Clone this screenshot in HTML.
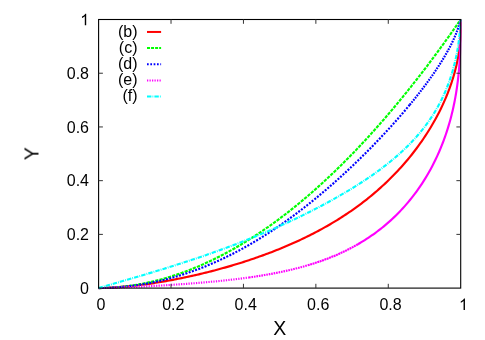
<!DOCTYPE html>
<html><head><meta charset="utf-8"><title>plot</title>
<style>
html,body{margin:0;padding:0;background:#fff;}
svg{display:block;}
text{font-family:"Liberation Sans",sans-serif;fill:#000;}
.t{opacity:0.999;}
</style></head><body>
<svg width="485" height="340" viewBox="0 0 485 340">
<rect width="485" height="340" fill="#fff"/>
<defs><clipPath id="cp"><rect x="97" y="19" width="364.6" height="270.5"/></clipPath></defs>
<g clip-path="url(#cp)"><path d="M98.60,288.10 L100.33,288.06 L102.06,288.01 L103.79,287.95 L105.51,287.88 L107.24,287.81 L108.97,287.73 L110.70,287.63 L112.43,287.54 L114.16,287.43 L115.89,287.32 L117.61,287.20 L119.34,287.07 L121.07,286.93 L122.80,286.79 L124.53,286.64 L126.26,286.48 L127.99,286.32 L129.72,286.15 L131.44,285.97 L133.17,285.78 L134.90,285.59 L136.63,285.40 L138.36,285.19 L140.09,284.98 L141.82,284.76 L143.54,284.54 L145.27,284.31 L147.00,284.07 L148.73,283.83 L150.46,283.58 L152.19,283.33 L153.92,283.07 L155.64,282.80 L157.37,282.53 L159.10,282.25 L160.83,281.97 L162.56,281.68 L164.29,281.39 L166.02,281.09 L167.74,280.78 L169.47,280.47 L171.20,280.15 L172.93,279.83 L174.66,279.50 L176.39,279.16 L178.12,278.82 L179.85,278.48 L181.57,278.13 L183.30,277.77 L185.03,277.41 L186.76,277.04 L188.49,276.67 L190.22,276.29 L191.95,275.91 L193.67,275.52 L195.40,275.13 L197.13,274.73 L198.86,274.33 L200.59,273.92 L202.32,273.50 L204.05,273.08 L205.77,272.65 L207.50,272.22 L209.23,271.79 L210.96,271.34 L212.69,270.90 L214.42,270.44 L216.15,269.98 L217.87,269.52 L219.60,269.05 L221.33,268.58 L223.06,268.09 L224.79,267.61 L226.52,267.12 L228.25,266.62 L229.97,266.11 L231.70,265.60 L233.43,265.09 L235.16,264.57 L236.89,264.04 L238.62,263.51 L240.35,262.97 L242.08,262.42 L243.80,261.87 L245.53,261.31 L247.26,260.75 L248.99,260.17 L250.72,259.60 L252.45,259.01 L254.18,258.42 L255.90,257.83 L257.63,257.22 L259.36,256.61 L261.09,255.99 L262.82,255.37 L264.55,254.74 L266.28,254.10 L268.00,253.45 L269.73,252.80 L271.46,252.14 L273.19,251.47 L274.92,250.79 L276.65,250.10 L278.38,249.41 L280.10,248.71 L281.83,248.00 L283.56,247.28 L285.29,246.56 L287.02,245.82 L288.75,245.08 L290.48,244.33 L292.21,243.57 L293.93,242.80 L295.66,242.02 L297.39,241.23 L299.12,240.43 L300.85,239.62 L302.58,238.80 L304.31,237.98 L306.03,237.14 L307.76,236.29 L309.49,235.43 L311.22,234.56 L312.95,233.67 L314.68,232.78 L316.41,231.88 L318.13,230.96 L319.86,230.03 L321.59,229.09 L323.32,228.14 L325.05,227.18 L326.78,226.20 L328.51,225.21 L330.23,224.20 L331.96,223.18 L333.69,222.15 L335.42,221.11 L337.15,220.05 L338.88,218.97 L340.61,217.88 L342.34,216.78 L344.06,215.66 L345.79,214.52 L347.52,213.37 L349.25,212.20 L350.98,211.02 L352.71,209.81 L354.44,208.59 L356.16,207.36 L357.89,206.10 L359.62,204.82 L361.35,203.53 L363.08,202.22 L364.81,200.88 L366.54,199.53 L368.26,198.15 L369.99,196.75 L371.72,195.33 L373.45,193.89 L375.18,192.43 L376.91,190.94 L378.64,189.42 L380.36,187.89 L382.09,186.32 L383.82,184.73 L385.55,183.11 L387.28,181.47 L389.01,179.80 L390.74,178.09 L392.47,176.36 L394.19,174.59 L395.92,172.79 L397.65,170.96 L399.38,169.10 L401.11,167.20 L402.84,165.26 L404.57,163.28 L406.29,161.27 L408.02,159.21 L409.75,157.11 L411.48,154.96 L413.21,152.77 L414.94,150.53 L416.67,148.24 L418.39,145.89 L420.12,143.49 L421.85,141.03 L423.58,138.50 L425.31,135.91 L427.04,133.25 L428.77,130.52 L430.49,127.70 L432.22,124.79 L433.95,121.79 L435.68,118.69 L437.41,115.48 L439.14,112.14 L440.87,108.67 L442.55,105.13 L442.60,105.04 L443.71,102.61 L444.79,100.17 L445.81,97.81 L446.76,95.52 L447.65,93.32 L448.48,91.18 L449.26,89.12 L449.99,87.12 L450.68,85.19 L451.32,83.33 L451.91,81.53 L452.48,79.78 L453.00,78.10 L453.49,76.47 L453.95,74.89 L454.38,73.37 L454.79,71.89 L455.16,70.46 L455.52,69.08 L455.85,67.74 L456.16,66.45 L456.45,65.20 L456.72,63.99 L456.97,62.81 L457.21,61.67 L457.43,60.57 L457.64,59.50 L457.84,58.47 L458.02,57.47 L458.19,56.50 L458.35,55.55 L458.50,54.64 L458.64,53.75 L458.77,52.89 L458.90,52.06 L459.01,51.25 L459.12,50.47 L459.22,49.71 L459.31,48.97 L459.40,48.25 L459.49,47.55 L459.56,46.87 L459.64,46.22 L459.70,45.58 L459.77,44.96 L459.83,44.35 L459.88,43.77 L459.93,43.20 L459.98,42.64 L460.03,42.10 L460.07,41.58 L460.11,41.07 L460.15,40.57 L460.18,40.09 L460.22,39.62 L460.25,39.16 L460.28,38.72 L460.30,38.28 L460.33,37.86 L460.35,37.45 L460.38,37.05 L460.40,36.66 L460.42,36.28 L460.43,35.91 L460.45,35.55 L460.47,35.20 L460.48,34.86 L460.50,34.52 L460.51,34.20 L460.52,33.88 L460.53,33.57 L460.54,33.27 L460.55,32.98 L460.56,32.69 L460.57,32.41 L460.58,32.14 L460.59,31.87 L460.59,31.61 L460.60,31.36 L460.61,31.11 L460.61,30.87 L460.62,30.63 L460.62,30.40 L460.63,30.18 L460.63,29.96 L460.64,29.74 L460.64,29.53 L460.65,29.33 L460.65,29.13 L460.65,28.93 L460.66,28.74 L460.66,28.55 L460.66,28.37 L460.66,28.19 L460.67,28.02 L460.67,27.85 L460.67,27.68 L460.67,27.52 L460.67,27.36 L460.68,27.21 L460.68,27.05 L460.68,26.91 L460.68,26.76 L460.68,26.62 L460.68,26.48 L460.68,26.34 L460.68,26.21 L460.69,26.08 L460.69,25.95 L460.69,25.83 L460.69,25.71 L460.69,25.59 L460.69,25.47 L460.69,25.35 L460.69,25.24 L460.69,25.13 L460.69,25.03 L460.69,24.92 L460.69,24.82 L460.69,24.72 L460.69,24.62 L460.69,24.52 L460.69,24.43 L460.69,24.34 L460.70,24.25 L460.70,24.16 L460.70,24.07 L460.70,23.98 L460.70,23.90 L460.70,23.82 L460.70,23.74 L460.70,23.66 L460.70,23.58 L460.70,23.51 L460.70,23.43 L460.70,23.36 L460.70,23.29 L460.70,23.22 L460.70,23.15 L460.70,23.09 L460.70,23.02 L460.70,22.96 L460.70,22.89 L460.70,22.83 L460.70,22.77 L460.70,22.71 L460.70,22.66 L460.70,22.60 L460.70,22.54 L460.70,22.49 L460.70,22.43 L460.70,22.38 L460.70,22.33 L460.70,22.28 L460.70,22.23 L460.70,22.18 L460.70,22.13 L460.70,22.09 L460.70,22.04 L460.70,22.00 L460.70,21.95 L460.70,21.91 L460.70,21.86 L460.70,21.82 L460.70,21.78 L460.70,21.74 L460.70,21.70 L460.70,21.66 L460.70,21.63 L460.70,21.59 L460.70,21.55 L460.70,21.52 L460.70,21.48 L460.70,21.45 L460.70,21.41 L460.70,21.38 L460.70,21.35 L460.70,21.31 L460.70,21.28 L460.70,21.25 L460.70,21.22 L460.70,21.19 L460.70,21.16 L460.70,21.13 L460.70,21.10 L460.70,21.08 L460.70,21.05 L460.70,21.02 L460.70,21.00 L460.70,20.97 L460.70,20.95 L460.70,20.92 L460.70,20.90 L460.70,20.87 L460.70,20.85 L460.70,20.83 L460.70,20.80 L460.70,20.78 L460.70,20.76 L460.70,19.50" fill="none" stroke="#ff0000" stroke-width="2.15"/></g>
<path d="M147,31.95 L161.1,31.95" fill="none" stroke="#ff0000" stroke-width="2.0"/>
<g clip-path="url(#cp)"><path d="M98.60,288.10 L100.33,288.09 L102.06,288.07 L103.79,288.03 L105.51,287.98 L107.24,287.92 L108.97,287.84 L110.70,287.74 L112.43,287.64 L114.16,287.52 L115.89,287.39 L117.61,287.24 L119.34,287.08 L121.07,286.91 L122.80,286.73 L124.53,286.53 L126.26,286.32 L127.99,286.09 L129.72,285.86 L131.44,285.61 L133.17,285.35 L134.90,285.07 L136.63,284.78 L138.36,284.48 L140.09,284.17 L141.82,283.85 L143.54,283.51 L145.27,283.16 L147.00,282.79 L148.73,282.42 L150.46,282.03 L152.19,281.63 L153.92,281.21 L155.64,280.79 L157.37,280.35 L159.10,279.90 L160.83,279.44 L162.56,278.96 L164.29,278.47 L166.02,277.97 L167.74,277.46 L169.47,276.94 L171.20,276.40 L172.93,275.85 L174.66,275.29 L176.39,274.71 L178.12,274.13 L179.85,273.53 L181.57,272.92 L183.30,272.30 L185.03,271.66 L186.76,271.01 L188.49,270.35 L190.22,269.68 L191.95,269.00 L193.67,268.30 L195.40,267.59 L197.13,266.87 L198.86,266.14 L200.59,265.40 L202.32,264.64 L204.05,263.87 L205.77,263.09 L207.50,262.30 L209.23,261.50 L210.96,260.68 L212.69,259.85 L214.42,259.01 L216.15,258.16 L217.87,257.29 L219.60,256.42 L221.33,255.53 L223.06,254.63 L224.79,253.71 L226.52,252.79 L228.25,251.85 L229.97,250.90 L231.70,249.94 L233.43,248.97 L235.16,247.99 L236.89,246.99 L238.62,245.98 L240.35,244.96 L242.08,243.93 L243.80,242.89 L245.53,241.83 L247.26,240.77 L248.99,239.69 L250.72,238.60 L252.45,237.49 L254.18,236.38 L255.90,235.25 L257.63,234.11 L259.36,232.96 L261.09,231.80 L262.82,230.63 L264.55,229.44 L266.28,228.24 L268.00,227.03 L269.73,225.81 L271.46,224.58 L273.19,223.34 L274.92,222.08 L276.65,220.81 L278.38,219.53 L280.10,218.24 L281.83,216.94 L283.56,215.62 L285.29,214.30 L287.02,212.96 L288.75,211.61 L290.48,210.25 L292.21,208.87 L293.93,207.49 L295.66,206.09 L297.39,204.68 L299.12,203.26 L300.85,201.83 L302.58,200.39 L304.31,198.93 L306.03,197.46 L307.76,195.98 L309.49,194.49 L311.22,192.99 L312.95,191.48 L314.68,189.95 L316.41,188.42 L318.13,186.87 L319.86,185.31 L321.59,183.74 L323.32,182.15 L325.05,180.56 L326.78,178.95 L328.51,177.33 L330.23,175.70 L331.96,174.06 L333.69,172.41 L335.42,170.74 L337.15,169.07 L338.88,167.38 L340.61,165.68 L342.34,163.97 L344.06,162.25 L345.79,160.51 L347.52,158.77 L349.25,157.01 L350.98,155.24 L352.71,153.46 L354.44,151.67 L356.16,149.87 L357.89,148.05 L359.62,146.22 L361.35,144.39 L363.08,142.54 L364.81,140.68 L366.54,138.80 L368.26,136.92 L369.99,135.02 L371.72,133.12 L373.45,131.20 L375.18,129.27 L376.91,127.33 L378.64,125.37 L380.36,123.41 L382.09,121.43 L383.82,119.45 L385.55,117.45 L387.28,115.44 L389.01,113.41 L390.74,111.38 L392.47,109.34 L394.19,107.28 L395.92,105.21 L397.65,103.13 L399.38,101.04 L401.11,98.94 L402.84,96.83 L404.57,94.70 L406.29,92.57 L408.02,90.42 L409.75,88.26 L411.48,86.09 L413.21,83.91 L414.94,81.71 L416.67,79.51 L418.39,77.29 L420.12,75.06 L421.85,72.82 L423.58,70.57 L425.31,68.31 L427.04,66.04 L428.77,63.75 L430.49,61.46 L432.22,59.15 L433.95,56.83 L435.68,54.50 L437.41,52.16 L439.14,49.81 L440.87,47.44 L442.55,45.13 L442.60,45.07 L443.71,43.53 L444.79,42.03 L445.81,40.62 L446.76,39.29 L447.65,38.05 L448.48,36.89 L449.26,35.80 L449.99,34.77 L450.68,33.81 L451.32,32.91 L451.91,32.06 L452.48,31.27 L453.00,30.52 L453.49,29.83 L453.95,29.17 L454.38,28.56 L454.79,27.99 L455.16,27.45 L455.52,26.95 L455.85,26.47 L456.16,26.03 L456.45,25.62 L456.72,25.23 L456.97,24.87 L457.21,24.52 L457.43,24.20 L457.64,23.91 L457.84,23.63 L458.02,23.36 L458.19,23.12 L458.35,22.89 L458.50,22.67 L458.64,22.47 L458.77,22.28 L458.90,22.10 L459.01,21.94 L459.12,21.78 L459.22,21.64 L459.31,21.50 L459.40,21.37 L459.49,21.25 L459.56,21.14 L459.64,21.04 L459.70,20.94 L459.77,20.85 L459.83,20.76 L459.88,20.68 L459.93,20.61 L459.98,20.54 L460.03,20.47 L460.07,20.41 L460.11,20.35 L460.15,20.30 L460.18,20.24 L460.22,20.20 L460.25,20.15 L460.28,20.11 L460.30,20.07 L460.33,20.04 L460.35,20.00 L460.38,19.97 L460.40,19.94 L460.42,19.91 L460.43,19.89 L460.45,19.86 L460.47,19.84 L460.48,19.82 L460.50,19.80 L460.51,19.78 L460.52,19.76 L460.53,19.74 L460.54,19.73 L460.55,19.71 L460.56,19.70 L460.57,19.69 L460.58,19.67 L460.59,19.66 L460.59,19.65 L460.60,19.64 L460.61,19.63 L460.61,19.63 L460.62,19.62 L460.62,19.61 L460.63,19.60 L460.63,19.60 L460.64,19.59 L460.64,19.58 L460.65,19.58 L460.65,19.57 L460.65,19.57 L460.66,19.56 L460.66,19.56 L460.66,19.56 L460.66,19.55 L460.67,19.55 L460.67,19.55 L460.67,19.54 L460.67,19.54 L460.67,19.54 L460.68,19.54 L460.68,19.53 L460.68,19.53 L460.68,19.53 L460.68,19.53 L460.68,19.53 L460.68,19.52 L460.68,19.52 L460.69,19.52 L460.69,19.52 L460.69,19.52 L460.69,19.52 L460.69,19.52 L460.69,19.52 L460.69,19.51 L460.69,19.51 L460.69,19.51 L460.69,19.51 L460.69,19.51 L460.69,19.51 L460.69,19.51 L460.69,19.51 L460.69,19.51 L460.69,19.51 L460.69,19.51 L460.70,19.51 L460.70,19.51 L460.70,19.51 L460.70,19.51 L460.70,19.51 L460.70,19.50 L460.70,19.50 L460.70,19.50 L460.70,19.50 L460.70,19.50 L460.70,19.50 L460.70,19.50 L460.70,19.50 L460.70,19.50 L460.70,19.50 L460.70,19.50 L460.70,19.50 L460.70,19.50 L460.70,19.50 L460.70,19.50 L460.70,19.50 L460.70,19.50 L460.70,19.50 L460.70,19.50 L460.70,19.50 L460.70,19.50 L460.70,19.50 L460.70,19.50 L460.70,19.50 L460.70,19.50 L460.70,19.50 L460.70,19.50 L460.70,19.50 L460.70,19.50 L460.70,19.50 L460.70,19.50 L460.70,19.50 L460.70,19.50 L460.70,19.50 L460.70,19.50 L460.70,19.50 L460.70,19.50 L460.70,19.50 L460.70,19.50 L460.70,19.50 L460.70,19.50 L460.70,19.50 L460.70,19.50 L460.70,19.50 L460.70,19.50 L460.70,19.50 L460.70,19.50 L460.70,19.50 L460.70,19.50 L460.70,19.50 L460.70,19.50 L460.70,19.50 L460.70,19.50 L460.70,19.50 L460.70,19.50 L460.70,19.50 L460.70,19.50 L460.70,19.50 L460.70,19.50 L460.70,19.50 L460.70,19.50 L460.70,19.50 L460.70,19.50 L460.70,19.50 L460.70,19.50 L460.70,19.50 L460.70,19.50 L460.70,19.50 L460.70,19.50 L460.70,19.50 L460.70,19.50" fill="none" stroke="#00ff00" stroke-width="2.15" stroke-dasharray="3.3 1.1"/></g>
<path d="M147,48.10 L161.1,48.10" fill="none" stroke="#00ff00" stroke-width="2.0" stroke-dasharray="3 1.05"/>
<g clip-path="url(#cp)"><path d="M98.60,288.10 L100.33,288.08 L102.06,288.04 L103.79,288.00 L105.51,287.95 L107.24,287.88 L108.97,287.81 L110.70,287.72 L112.43,287.63 L114.16,287.52 L115.89,287.41 L117.61,287.28 L119.34,287.15 L121.07,287.00 L122.80,286.84 L124.53,286.67 L126.26,286.49 L127.99,286.30 L129.72,286.10 L131.44,285.89 L133.17,285.67 L134.90,285.43 L136.63,285.19 L138.36,284.93 L140.09,284.67 L141.82,284.39 L143.54,284.10 L145.27,283.80 L147.00,283.49 L148.73,283.17 L150.46,282.84 L152.19,282.49 L153.92,282.14 L155.64,281.77 L157.37,281.39 L159.10,281.00 L160.83,280.60 L162.56,280.19 L164.29,279.77 L166.02,279.33 L167.74,278.89 L169.47,278.43 L171.20,277.96 L172.93,277.48 L174.66,276.99 L176.39,276.49 L178.12,275.97 L179.85,275.45 L181.57,274.91 L183.30,274.36 L185.03,273.80 L186.76,273.23 L188.49,272.65 L190.22,272.05 L191.95,271.44 L193.67,270.83 L195.40,270.20 L197.13,269.55 L198.86,268.90 L200.59,268.24 L202.32,267.56 L204.05,266.87 L205.77,266.17 L207.50,265.46 L209.23,264.74 L210.96,264.01 L212.69,263.26 L214.42,262.51 L216.15,261.74 L217.87,260.96 L219.60,260.16 L221.33,259.36 L223.06,258.55 L224.79,257.72 L226.52,256.88 L228.25,256.03 L229.97,255.17 L231.70,254.30 L233.43,253.42 L235.16,252.52 L236.89,251.61 L238.62,250.69 L240.35,249.76 L242.08,248.82 L243.80,247.87 L245.53,246.91 L247.26,245.93 L248.99,244.95 L250.72,243.95 L252.45,242.94 L254.18,241.92 L255.90,240.89 L257.63,239.84 L259.36,238.79 L261.09,237.72 L262.82,236.64 L264.55,235.56 L266.28,234.46 L268.00,233.35 L269.73,232.22 L271.46,231.09 L273.19,229.95 L274.92,228.79 L276.65,227.63 L278.38,226.45 L280.10,225.26 L281.83,224.06 L283.56,222.85 L285.29,221.63 L287.02,220.40 L288.75,219.16 L290.48,217.90 L292.21,216.64 L293.93,215.36 L295.66,214.08 L297.39,212.78 L299.12,211.47 L300.85,210.15 L302.58,208.83 L304.31,207.49 L306.03,206.13 L307.76,204.77 L309.49,203.40 L311.22,202.02 L312.95,200.63 L314.68,199.22 L316.41,197.81 L318.13,196.38 L319.86,194.95 L321.59,193.50 L323.32,192.04 L325.05,190.58 L326.78,189.10 L328.51,187.61 L330.23,186.11 L331.96,184.60 L333.69,183.08 L335.42,181.55 L337.15,180.01 L338.88,178.46 L340.61,176.89 L342.34,175.32 L344.06,173.74 L345.79,172.14 L347.52,170.54 L349.25,168.92 L350.98,167.29 L352.71,165.66 L354.44,164.01 L356.16,162.35 L357.89,160.68 L359.62,159.00 L361.35,157.30 L363.08,155.60 L364.81,153.89 L366.54,152.16 L368.26,150.42 L369.99,148.67 L371.72,146.91 L373.45,145.14 L375.18,143.35 L376.91,141.56 L378.64,139.75 L380.36,137.93 L382.09,136.09 L383.82,134.25 L385.55,132.39 L387.28,130.51 L389.01,128.63 L390.74,126.73 L392.47,124.81 L394.19,122.88 L395.92,120.94 L397.65,118.98 L399.38,117.01 L401.11,115.02 L402.84,113.01 L404.57,110.98 L406.29,108.94 L408.02,106.88 L409.75,104.80" fill="none" stroke="#0000ff" stroke-width="2.15" stroke-dasharray="2.0 1.4"/><path d="M409.75,104.80 L411.48,102.70 L413.21,100.58 L414.94,98.44 L416.67,96.27 L418.39,94.08 L420.12,91.87 L421.85,89.63 L423.58,87.36 L425.31,85.06 L427.04,82.73 L428.77,80.36 L430.49,77.96 L432.22,75.51 L433.95,73.02 L435.68,70.49 L437.41,67.90 L439.14,65.26 L440.87,62.55 L442.55,59.84 L442.60,59.77 L443.71,57.93 L444.79,56.11 L445.81,54.37 L446.76,52.71 L447.65,51.12 L448.48,49.60 L449.26,48.14 L449.99,46.76 L450.68,45.43 L451.32,44.16 L451.91,42.95 L452.48,41.79 L453.00,40.68 L453.49,39.62 L453.95,38.60 L454.38,37.63 L454.79,36.70 L455.16,35.82 L455.52,34.97 L455.85,34.16 L456.16,33.38 L456.45,32.64 L456.72,31.93 L456.97,31.25 L457.21,30.60 L457.43,29.98 L457.64,29.38 L457.84,28.81 L458.02,28.27 L458.19,27.75 L458.35,27.25 L458.50,26.78 L458.64,26.33 L458.77,25.89 L458.90,25.48 L459.01,25.08 L459.12,24.70 L459.22,24.34 L459.31,23.99 L459.40,23.66 L459.49,23.35 L459.56,23.05 L459.64,22.76 L459.70,22.48 L459.77,22.22 L459.83,21.97 L459.88,21.73 L459.93,21.51 L459.98,21.29 L460.03,21.08 L460.07,20.89 L460.11,20.70 L460.15,20.52 L460.18,20.35 L460.22,20.19 L460.25,20.03 L460.28,19.89 L460.30,19.75 L460.33,19.62 L460.35,19.50 L460.38,19.50 L460.40,19.50 L460.42,19.50 L460.43,19.50 L460.45,19.50 L460.47,19.50 L460.48,19.50 L460.50,19.50 L460.51,19.50 L460.52,19.50 L460.53,19.50 L460.54,19.50 L460.55,19.50 L460.56,19.50 L460.57,19.50 L460.58,19.50 L460.59,19.50 L460.59,19.50 L460.60,19.50 L460.61,19.50 L460.61,19.50 L460.62,19.50 L460.62,19.50 L460.63,19.50 L460.63,19.50 L460.64,19.50 L460.64,19.50 L460.65,19.50 L460.65,19.50 L460.65,19.50 L460.66,19.50 L460.66,19.50 L460.66,19.50 L460.66,19.50 L460.67,19.50 L460.67,19.50 L460.67,19.50 L460.67,19.50 L460.67,19.50 L460.68,19.50 L460.68,19.50 L460.68,19.50 L460.68,19.50 L460.68,19.50 L460.68,19.50 L460.68,19.50 L460.68,19.50 L460.69,19.50 L460.69,19.50 L460.69,19.50 L460.69,19.50 L460.69,19.50 L460.69,19.50 L460.69,19.50 L460.69,19.50 L460.69,19.50 L460.69,19.50 L460.69,19.50 L460.69,19.50 L460.69,19.50 L460.69,19.50 L460.69,19.50 L460.69,19.50 L460.69,19.50 L460.70,19.50 L460.70,19.50 L460.70,19.50 L460.70,19.50 L460.70,19.50 L460.70,19.50 L460.70,19.50 L460.70,19.50 L460.70,19.50 L460.70,19.50 L460.70,19.50 L460.70,19.50 L460.70,19.50 L460.70,19.50 L460.70,19.50 L460.70,19.50 L460.70,19.50 L460.70,19.50 L460.70,19.50 L460.70,19.50 L460.70,19.50 L460.70,19.50 L460.70,19.50 L460.70,19.50 L460.70,19.50 L460.70,19.50 L460.70,19.50 L460.70,19.50 L460.70,19.50 L460.70,19.50 L460.70,19.50 L460.70,19.50 L460.70,19.50 L460.70,19.50 L460.70,19.50 L460.70,19.50 L460.70,19.50 L460.70,19.50 L460.70,19.50 L460.70,19.50 L460.70,19.50 L460.70,19.50 L460.70,19.50 L460.70,19.50 L460.70,19.50 L460.70,19.50 L460.70,19.50 L460.70,19.50 L460.70,19.50 L460.70,19.50 L460.70,19.50 L460.70,19.50 L460.70,19.50 L460.70,19.50 L460.70,19.50 L460.70,19.50 L460.70,19.50 L460.70,19.50 L460.70,19.50 L460.70,19.50 L460.70,19.50 L460.70,19.50 L460.70,19.50 L460.70,19.50 L460.70,19.50 L460.70,19.50 L460.70,19.50 L460.70,19.50 L460.70,19.50 L460.70,19.50 L460.70,19.50 L460.70,19.50 L460.70,19.50 L460.70,19.50 L460.70,19.50 L460.70,19.50" fill="none" stroke="#0000ff" stroke-width="2.15" stroke-dasharray="1.7 1.1"/></g>
<path d="M147,64.25 L161.1,64.25" fill="none" stroke="#0000ff" stroke-width="2.0" stroke-dasharray="1.7 1.63"/>
<g clip-path="url(#cp)"><path d="M98.60,288.10 L100.33,288.06 L102.06,288.03 L103.79,287.99 L105.51,287.94 L107.24,287.90 L108.97,287.85 L110.70,287.80 L112.43,287.75 L114.16,287.69 L115.89,287.64 L117.61,287.58 L119.34,287.52 L121.07,287.46 L122.80,287.39 L124.53,287.33 L126.26,287.26 L127.99,287.19 L129.72,287.12 L131.44,287.05 L133.17,286.97 L134.90,286.89 L136.63,286.82 L138.36,286.74 L140.09,286.65 L141.82,286.57 L143.54,286.48 L145.27,286.40 L147.00,286.31 L148.73,286.22 L150.46,286.13 L152.19,286.03 L153.92,285.94 L155.64,285.84 L157.37,285.74 L159.10,285.64 L160.83,285.54 L162.56,285.44 L164.29,285.33 L166.02,285.23 L167.74,285.12 L169.47,285.01 L171.20,284.90 L172.93,284.79 L174.66,284.67 L176.39,284.55 L178.12,284.44 L179.85,284.32 L181.57,284.19 L183.30,284.07 L185.03,283.94 L186.76,283.82 L188.49,283.69 L190.22,283.56 L191.95,283.42 L193.67,283.29 L195.40,283.15 L197.13,283.01 L198.86,282.87 L200.59,282.72 L202.32,282.57 L204.05,282.43 L205.77,282.27 L207.50,282.12 L209.23,281.96 L210.96,281.80 L212.69,281.64 L214.42,281.48 L216.15,281.31 L217.87,281.14 L219.60,280.96 L221.33,280.79 L223.06,280.61 L224.79,280.42 L226.52,280.24 L228.25,280.04 L229.97,279.85 L231.70,279.65 L233.43,279.45 L235.16,279.25 L236.89,279.04 L238.62,278.82 L240.35,278.61 L242.08,278.38 L243.80,278.16 L245.53,277.93 L247.26,277.69 L248.99,277.45" fill="none" stroke="#ff00ff" stroke-width="2.15" stroke-dasharray="1.25 1.25"/><path d="M248.99,277.45 L250.72,277.21 L252.45,276.96 L254.18,276.70 L255.90,276.44 L257.63,276.17 L259.36,275.90 L261.09,275.62 L262.82,275.34 L264.55,275.05 L266.28,274.75 L268.00,274.45 L269.73,274.14 L271.46,273.82 L273.19,273.50 L274.92,273.17 L276.65,272.83 L278.38,272.49 L280.10,272.14 L281.83,271.78 L283.56,271.41 L285.29,271.03 L287.02,270.65 L288.75,270.25 L290.48,269.85 L292.21,269.44 L293.93,269.01 L295.66,268.58 L297.39,268.14 L299.12,267.69 L300.85,267.23 L302.58,266.76 L304.31,266.28 L306.03,265.78 L307.76,265.28" fill="none" stroke="#ff00ff" stroke-width="2.15" stroke-dasharray="1.6 0.9"/><path d="M307.76,265.28 L309.49,264.76 L311.22,264.23 L312.95,263.69 L314.68,263.14 L316.41,262.57 L318.13,261.99 L319.86,261.40 L321.59,260.79 L323.32,260.17 L325.05,259.54 L326.78,258.89 L328.51,258.22 L330.23,257.54 L331.96,256.85 L333.69,256.14 L335.42,255.41 L337.15,254.66 L338.88,253.90 L340.61,253.12 L342.34,252.32 L344.06,251.50 L345.79,250.67 L347.52,249.81 L349.25,248.94 L350.98,248.04 L352.71,247.12 L354.44,246.18 L356.16,245.22 L357.89,244.24" fill="none" stroke="#ff00ff" stroke-width="2.15" stroke-dasharray="2.0 0.5"/><path d="M357.89,244.24 L359.62,243.23 L361.35,242.20 L363.08,241.15 L364.81,240.07 L366.54,238.96 L368.26,237.83 L369.99,236.67 L371.72,235.48 L373.45,234.27 L375.18,233.02 L376.91,231.74 L378.64,230.44 L380.36,229.10 L382.09,227.73 L383.82,226.32 L385.55,224.88 L387.28,223.40 L389.01,221.89 L390.74,220.34 L392.47,218.74 L394.19,217.11 L395.92,215.43 L397.65,213.71 L399.38,211.95 L401.11,210.13 L402.84,208.27 L404.57,206.35 L406.29,204.39 L408.02,202.36 L409.75,200.28 L411.48,198.13 L413.21,195.93 L414.94,193.65 L416.67,191.30 L418.39,188.88 L420.12,186.38 L421.85,183.80 L423.58,181.13 L425.31,178.36 L427.04,175.49 L428.77,172.51 L430.49,169.41 L432.22,166.18 L433.95,162.82 L435.68,159.30 L437.41,155.61 L439.14,151.74 L440.87,147.65 L442.55,143.43 L442.60,143.32 L443.71,140.38 L444.79,137.40 L445.81,134.49 L446.76,131.65 L447.65,128.87 L448.48,126.16 L449.26,123.52 L449.99,120.94 L450.68,118.42 L451.32,115.97 L451.91,113.57 L452.48,111.23 L453.00,108.95 L453.49,106.73 L453.95,104.56 L454.38,102.44 L454.79,100.38 L455.16,98.36 L455.52,96.40 L455.85,94.49 L456.16,92.62 L456.45,90.79 L456.72,89.02 L456.97,87.28 L457.21,85.59 L457.43,83.95 L457.64,82.34 L457.84,80.77 L458.02,79.24 L458.19,77.75 L458.35,76.29 L458.50,74.87 L458.64,73.49 L458.77,72.14 L458.90,70.82 L459.01,69.54 L459.12,68.29 L459.22,67.06 L459.31,65.87 L459.40,64.71 L459.49,63.57 L459.56,62.47 L459.64,61.39 L459.70,60.33 L459.77,59.31 L459.83,58.30 L459.88,57.33 L459.93,56.37 L459.98,55.44 L460.03,54.53 L460.07,53.64 L460.11,52.78 L460.15,51.94 L460.18,51.11 L460.22,50.31 L460.25,49.52 L460.28,48.76 L460.30,48.01 L460.33,47.28 L460.35,46.57 L460.38,45.87 L460.40,45.19 L460.42,44.53 L460.43,43.88 L460.45,43.25 L460.47,42.63 L460.48,42.03 L460.50,41.44 L460.51,40.87 L460.52,40.31 L460.53,39.76 L460.54,39.23 L460.55,38.70 L460.56,38.19 L460.57,37.70 L460.58,37.21 L460.59,36.73 L460.59,36.27 L460.60,35.81 L460.61,35.37 L460.61,34.94 L460.62,34.51 L460.62,34.10 L460.63,33.70 L460.63,33.30 L460.64,32.92 L460.64,32.54 L460.65,32.17 L460.65,31.81 L460.65,31.46 L460.66,31.11 L460.66,30.77 L460.66,30.45 L460.66,30.12 L460.67,29.81 L460.67,29.50 L460.67,29.20 L460.67,28.90 L460.67,28.62 L460.68,28.33 L460.68,28.06 L460.68,27.79 L460.68,27.53 L460.68,27.27 L460.68,27.02 L460.68,26.77 L460.68,26.53 L460.69,26.29 L460.69,26.06 L460.69,25.83 L460.69,25.61 L460.69,25.39 L460.69,25.18 L460.69,24.97 L460.69,24.77 L460.69,24.57 L460.69,24.38 L460.69,24.19 L460.69,24.00 L460.69,23.82 L460.69,23.64 L460.69,23.46 L460.69,23.29 L460.69,23.12 L460.70,22.96 L460.70,22.80 L460.70,22.64 L460.70,22.48 L460.70,22.33 L460.70,22.18 L460.70,22.04 L460.70,21.90 L460.70,21.76 L460.70,21.62 L460.70,21.49 L460.70,21.35 L460.70,21.22 L460.70,21.10 L460.70,20.98 L460.70,20.85 L460.70,20.74 L460.70,20.62 L460.70,20.50 L460.70,20.39 L460.70,20.28 L460.70,20.18 L460.70,20.07 L460.70,19.97 L460.70,19.87 L460.70,19.77 L460.70,19.67 L460.70,19.57 L460.70,19.50 L460.70,19.50 L460.70,19.50 L460.70,19.50 L460.70,19.50 L460.70,19.50 L460.70,19.50 L460.70,19.50 L460.70,19.50 L460.70,19.50 L460.70,19.50 L460.70,19.50 L460.70,19.50 L460.70,19.50 L460.70,19.50 L460.70,19.50 L460.70,19.50 L460.70,19.50 L460.70,19.50 L460.70,19.50 L460.70,19.50 L460.70,19.50 L460.70,19.50 L460.70,19.50 L460.70,19.50 L460.70,19.50 L460.70,19.50 L460.70,19.50 L460.70,19.50 L460.70,19.50 L460.70,19.50 L460.70,19.50 L460.70,19.50 L460.70,19.50 L460.70,19.50 L460.70,19.50 L460.70,19.50 L460.70,19.50 L460.70,19.50 L460.70,19.50 L460.70,19.50 L460.70,19.50 L460.70,19.50 L460.70,19.50 L460.70,19.50 L460.70,19.50 L460.70,19.50 L460.70,19.50" fill="none" stroke="#ff00ff" stroke-width="2.15"/></g>
<path d="M147,80.40 L161.1,80.40" fill="none" stroke="#ff00ff" stroke-width="2.0" stroke-dasharray="1.25 1.25"/>
<g clip-path="url(#cp)"><path d="M98.60,288.10 L100.33,287.59 L102.06,287.08 L103.79,286.58 L105.51,286.07 L107.24,285.57 L108.97,285.06 L110.70,284.56 L112.43,284.05 L114.16,283.55 L115.89,283.04 L117.61,282.54 L119.34,282.04 L121.07,281.53 L122.80,281.03 L124.53,280.52 L126.26,280.02 L127.99,279.51 L129.72,279.01 L131.44,278.50 L133.17,277.99 L134.90,277.49 L136.63,276.98 L138.36,276.47 L140.09,275.96 L141.82,275.45 L143.54,274.93 L145.27,274.42 L147.00,273.90 L148.73,273.39 L150.46,272.87 L152.19,272.35 L153.92,271.83 L155.64,271.30 L157.37,270.78 L159.10,270.25 L160.83,269.72 L162.56,269.19 L164.29,268.66 L166.02,268.13 L167.74,267.59 L169.47,267.05 L171.20,266.51 L172.93,265.97 L174.66,265.42 L176.39,264.88 L178.12,264.33 L179.85,263.77 L181.57,263.22 L183.30,262.66 L185.03,262.10 L186.76,261.54 L188.49,260.97 L190.22,260.40 L191.95,259.83 L193.67,259.25 L195.40,258.68 L197.13,258.10 L198.86,257.51 L200.59,256.93 L202.32,256.34 L204.05,255.74 L205.77,255.15 L207.50,254.55 L209.23,253.94 L210.96,253.34 L212.69,252.73 L214.42,252.11 L216.15,251.50 L217.87,250.88 L219.60,250.25 L221.33,249.62 L223.06,248.99 L224.79,248.36 L226.52,247.72 L228.25,247.08 L229.97,246.43 L231.70,245.78 L233.43,245.13 L235.16,244.47 L236.89,243.81 L238.62,243.14 L240.35,242.47 L242.08,241.80 L243.80,241.12 L245.53,240.44 L247.26,239.75 L248.99,239.06 L250.72,238.37 L252.45,237.67 L254.18,236.96 L255.90,236.26 L257.63,235.54 L259.36,234.83 L261.09,234.11 L262.82,233.38 L264.55,232.65 L266.28,231.92 L268.00,231.18 L269.73,230.43 L271.46,229.68 L273.19,228.93 L274.92,228.17 L276.65,227.41 L278.38,226.64 L280.10,225.87 L281.83,225.09 L283.56,224.31 L285.29,223.52 L287.02,222.73 L288.75,221.93 L290.48,221.13 L292.21,220.32 L293.93,219.50 L295.66,218.68 L297.39,217.86 L299.12,217.03 L300.85,216.19 L302.58,215.35 L304.31,214.50 L306.03,213.65 L307.76,212.79 L309.49,211.92 L311.22,211.05 L312.95,210.17 L314.68,209.29 L316.41,208.40 L318.13,207.50 L319.86,206.60 L321.59,205.69 L323.32,204.77 L325.05,203.85 L326.78,202.91 L328.51,201.98 L330.23,201.03 L331.96,200.08 L333.69,199.11 L335.42,198.14 L337.15,197.17 L338.88,196.18 L340.61,195.19 L342.34,194.18 L344.06,193.17 L345.79,192.15 L347.52,191.12 L349.25,190.08 L350.98,189.03 L352.71,187.97 L354.44,186.90 L356.16,185.82 L357.89,184.72 L359.62,183.62 L361.35,182.50 L363.08,181.38 L364.81,180.24 L366.54,179.08 L368.26,177.91 L369.99,176.73 L371.72,175.54 L373.45,174.32 L375.18,173.10 L376.91,171.85 L378.64,170.59 L380.36,169.32 L382.09,168.02 L383.82,166.70 L385.55,165.37 L387.28,164.01 L389.01,162.63 L390.74,161.23 L392.47,159.81 L394.19,158.36 L395.92,156.88 L397.65,155.38 L399.38,153.85 L401.11,152.28 L402.84,150.69 L404.57,149.06 L406.29,147.39 L408.02,145.69 L409.75,143.95 L411.48,142.16 L413.21,140.33 L414.94,138.45 L416.67,136.52 L418.39,134.53 L420.12,132.49 L421.85,130.38 L423.58,128.20 L425.31,125.95 L427.04,123.62 L428.77,121.20 L430.49,118.69 L432.22,116.08 L433.95,113.35 L435.68,110.50 L437.41,107.51 L439.14,104.36 L440.87,101.03 L442.55,97.60 L442.60,97.51 L443.71,95.12 L444.79,92.69 L445.81,90.32 L446.76,88.01 L447.65,85.75 L448.48,83.54 L449.26,81.39 L449.99,79.30 L450.68,77.26 L451.32,75.27 L451.91,73.33 L452.48,71.44 L453.00,69.61 L453.49,67.83 L453.95,66.09 L454.38,64.40 L454.79,62.77 L455.16,61.17 L455.52,59.63 L455.85,58.13 L456.16,56.67 L456.45,55.26 L456.72,53.89 L456.97,52.57 L457.21,51.28 L457.43,50.03 L457.64,48.83 L457.84,47.66 L458.02,46.52 L458.19,45.43 L458.35,44.37 L458.50,43.34 L458.64,42.35 L458.77,41.39 L458.90,40.46 L459.01,39.56 L459.12,38.70 L459.22,37.86 L459.31,37.05 L459.40,36.27 L459.49,35.51 L459.56,34.79 L459.64,34.08 L459.70,33.40 L459.77,32.75 L459.83,32.12 L459.88,31.51 L459.93,30.92 L459.98,30.36 L460.03,29.81 L460.07,29.29 L460.11,28.78 L460.15,28.29 L460.18,27.83 L460.22,27.37 L460.25,26.94 L460.28,26.52 L460.30,26.12 L460.33,25.73 L460.35,25.36 L460.38,25.00 L460.40,24.66 L460.42,24.33 L460.43,24.01 L460.45,23.71 L460.47,23.41 L460.48,23.13 L460.50,22.86 L460.51,22.60 L460.52,22.35 L460.53,22.12 L460.54,21.89 L460.55,21.67 L460.56,21.46 L460.57,21.26 L460.58,21.07 L460.59,20.88 L460.59,20.71 L460.60,20.54 L460.61,20.38 L460.61,20.23 L460.62,20.08 L460.62,19.94 L460.63,19.81 L460.63,19.68 L460.64,19.56 L460.64,19.50 L460.65,19.50 L460.65,19.50 L460.65,19.50 L460.66,19.50 L460.66,19.50 L460.66,19.50 L460.66,19.50 L460.67,19.50 L460.67,19.50 L460.67,19.50 L460.67,19.50 L460.67,19.50 L460.68,19.50 L460.68,19.50 L460.68,19.50 L460.68,19.50 L460.68,19.50 L460.68,19.50 L460.68,19.50 L460.68,19.50 L460.69,19.50 L460.69,19.50 L460.69,19.50 L460.69,19.50 L460.69,19.50 L460.69,19.50 L460.69,19.50 L460.69,19.50 L460.69,19.50 L460.69,19.50 L460.69,19.50 L460.69,19.50 L460.69,19.50 L460.69,19.50 L460.69,19.50 L460.69,19.50 L460.69,19.50 L460.70,19.50 L460.70,19.50 L460.70,19.50 L460.70,19.50 L460.70,19.50 L460.70,19.50 L460.70,19.50 L460.70,19.50 L460.70,19.50 L460.70,19.50 L460.70,19.50 L460.70,19.50 L460.70,19.50 L460.70,19.50 L460.70,19.50 L460.70,19.50 L460.70,19.50 L460.70,19.50 L460.70,19.50 L460.70,19.50 L460.70,19.50 L460.70,19.50 L460.70,19.50 L460.70,19.50 L460.70,19.50 L460.70,19.50 L460.70,19.50 L460.70,19.50 L460.70,19.50 L460.70,19.50 L460.70,19.50 L460.70,19.50 L460.70,19.50 L460.70,19.50 L460.70,19.50 L460.70,19.50 L460.70,19.50 L460.70,19.50 L460.70,19.50 L460.70,19.50 L460.70,19.50 L460.70,19.50 L460.70,19.50 L460.70,19.50 L460.70,19.50 L460.70,19.50 L460.70,19.50 L460.70,19.50 L460.70,19.50 L460.70,19.50 L460.70,19.50 L460.70,19.50 L460.70,19.50 L460.70,19.50 L460.70,19.50 L460.70,19.50 L460.70,19.50 L460.70,19.50 L460.70,19.50 L460.70,19.50 L460.70,19.50 L460.70,19.50 L460.70,19.50 L460.70,19.50 L460.70,19.50 L460.70,19.50 L460.70,19.50 L460.70,19.50 L460.70,19.50 L460.70,19.50 L460.70,19.50 L460.70,19.50 L460.70,19.50 L460.70,19.50 L460.70,19.50 L460.70,19.50" fill="none" stroke="#00ffff" stroke-width="2.15" stroke-dasharray="4.4 1.1 0.8 1.1"/></g>
<path d="M147,96.55 L161.1,96.55" fill="none" stroke="#00ffff" stroke-width="2.0" stroke-dasharray="4.4 1.1 0.8 1.1"/>
<rect x="98.6" y="19.5" width="362.10" height="268.60" fill="none" stroke="#000" stroke-width="1.1"/>
<path d="M171.02,288.1 V283.8 M171.02,19.5 V23.8 M98.6,234.38 H102.89999999999999 M460.7,234.38 H456.4" stroke="#333" stroke-width="1" fill="none"/>
<path d="M243.44,288.1 V283.8 M243.44,19.5 V23.8 M98.6,180.66 H102.89999999999999 M460.7,180.66 H456.4" stroke="#333" stroke-width="1" fill="none"/>
<path d="M315.86,288.1 V283.8 M315.86,19.5 V23.8 M98.6,126.94 H102.89999999999999 M460.7,126.94 H456.4" stroke="#333" stroke-width="1" fill="none"/>
<path d="M388.28,288.1 V283.8 M388.28,19.5 V23.8 M98.6,73.22 H102.89999999999999 M460.7,73.22 H456.4" stroke="#333" stroke-width="1" fill="none"/>
<g class="t">
<text x="137.5" y="36.85" font-size="16" text-anchor="end">(b)</text>
<text x="137.5" y="53.00" font-size="16" text-anchor="end">(c)</text>
<text x="137.5" y="69.15" font-size="16" text-anchor="end">(d)</text>
<text x="137.5" y="85.30" font-size="16" text-anchor="end">(e)</text>
<text x="137.5" y="101.45" font-size="16" text-anchor="end">(f)</text>
<text x="100.90" y="310" font-size="16" text-anchor="middle">0</text>
<text x="89" y="293.80" font-size="16" text-anchor="end">0</text>
<text x="173.32" y="310" font-size="16" text-anchor="middle">0.2</text>
<text x="89" y="240.08" font-size="16" text-anchor="end">0.2</text>
<text x="245.74" y="310" font-size="16" text-anchor="middle">0.4</text>
<text x="89" y="186.36" font-size="16" text-anchor="end">0.4</text>
<text x="318.16" y="310" font-size="16" text-anchor="middle">0.6</text>
<text x="89" y="132.64" font-size="16" text-anchor="end">0.6</text>
<text x="390.58" y="310" font-size="16" text-anchor="middle">0.8</text>
<text x="89" y="78.92" font-size="16" text-anchor="end">0.8</text>
<path d="M763 0H583V1147Q518 1085 412.5 1023T223 930V1104Q374 1175 487 1276T647 1472H763Z" transform="translate(459.00,310.00) scale(0.007812,-0.007812)" fill="#000"/>
<path d="M763 0H583V1147Q518 1085 412.5 1023T223 930V1104Q374 1175 487 1276T647 1472H763Z" transform="translate(80.24,25.20) scale(0.007812,-0.007812)" fill="#000"/>
<text x="279.8" y="334.7" font-size="19.5" text-anchor="middle">X</text>
<text transform="translate(38.5,153.7) rotate(-90)" font-size="19.5" text-anchor="middle">Y</text>
</g>
</svg></body></html>
